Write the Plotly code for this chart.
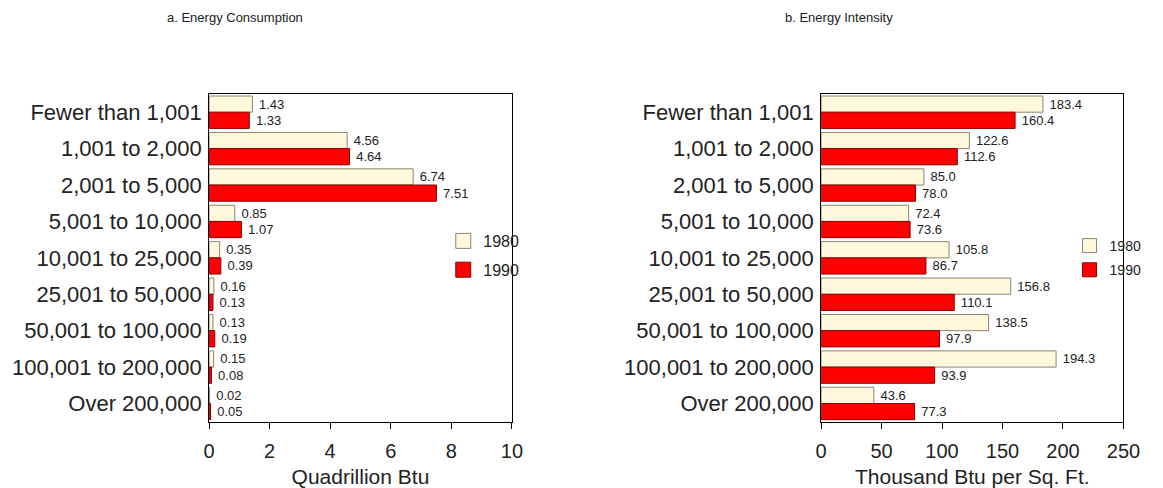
import plotly.graph_objects as go

categories = ["Fewer than 1,001", "1,001 to 2,000", "2,001 to 5,000", "5,001 to 10,000",
              "10,001 to 25,000", "25,001 to 50,000", "50,001 to 100,000",
              "100,001 to 200,000", "Over 200,000"]
consumption_1980 = [1.43, 4.56, 6.74, 0.85, 0.35, 0.16, 0.13, 0.15, 0.02]
consumption_1990 = [1.33, 4.64, 7.51, 1.07, 0.39, 0.13, 0.19, 0.08, 0.05]
intensity_1980 = [183.4, 122.6, 85.0, 72.4, 105.8, 156.8, 138.5, 194.3, 43.6]
intensity_1990 = [160.4, 112.6, 78.0, 73.6, 86.7, 110.1, 97.9, 93.9, 77.3]
years = ["1980", "1990"]
x_ticks_a = [0, 2, 4, 6, 8, 10]
x_ticks_b = [0, 50, 100, 150, 200, 250]

FONT = "Arial, Liberation Sans, sans-serif"
fill = {"1980": "#FFF8DC", "1990": "#FF0000"}
edge = {"1980": "#8C8470", "1990": "#8B0000"}

# page has an 8px body margin; figure is sized to fill the rest of the window
W, H, OFF = 1155, 480, 8
def px(x):
    return (x - OFF) / W
def py(y):
    return 1 - (y - OFF) / H

fig = go.Figure()

def add_bars(vals, year, xa, ya, fmt, legend, msize):
    fig.add_trace(go.Bar(
        y=categories, x=vals, orientation="h", name=year,
        marker=dict(color=fill[year], line=dict(color=edge[year], width=1)),
        text=["\u00a0" + fmt.format(v) for v in vals], textposition="outside",
        textfont=dict(family=FONT, size=13, color="#222"),
        constraintext="none", cliponaxis=False,
        xaxis=xa, yaxis=ya, showlegend=False, hoverinfo="skip"))
    fig.add_trace(go.Scatter(
        x=[None], y=[None], mode="markers", name=year,
        marker=dict(symbol="square", size=msize,
                    color=fill[year], line=dict(color=edge[year], width=1)),
        xaxis=xa, yaxis=ya, legend=legend, legendgroup=legend + year, showlegend=True))

add_bars(consumption_1980, years[0], "x", "y", "{:.2f}", "legend", 15)
add_bars(consumption_1990, years[1], "x", "y", "{:.2f}", "legend", 15)
add_bars(intensity_1980, years[0], "x2", "y2", "{:.1f}", "legend2", 14)
add_bars(intensity_1990, years[1], "x2", "y2", "{:.1f}", "legend2", 14)

ydom = [py(421.7), py(94)]
axis_common = dict(showline=True, linecolor="black", linewidth=1, mirror=True,
                   showgrid=False, zeroline=False)
xcommon = dict(ticks="outside", ticklen=6, tickcolor="black",
               tickfont=dict(size=20), ticklabelstandoff=5)
fig.update_layout(
    width=W, height=H,
    margin=dict(l=0, r=0, t=0, b=0),
    paper_bgcolor="white", plot_bgcolor="white",
    barmode="group", bargap=0.11, bargroupgap=0,
    font=dict(family=FONT, color="#222"),
    xaxis=dict(domain=[px(207), px(516)], range=[0, 10], tickvals=x_ticks_a,
               title=dict(text="Quadrillion Btu", font=dict(size=21), standoff=8),
               anchor="y", **xcommon, **axis_common),
    yaxis=dict(domain=ydom, autorange="reversed", ticks="", tickfont=dict(size=22),
               ticklabelstandoff=2, anchor="x", **axis_common),
    xaxis2=dict(domain=[px(831.5), px(1140)], range=[0, 250], tickvals=x_ticks_b,
                title=dict(text="Thousand Btu per Sq. Ft.", font=dict(size=21), standoff=8),
                anchor="y2", **xcommon, **axis_common),
    yaxis2=dict(domain=ydom, autorange="reversed", ticks="", tickfont=dict(size=22),
                ticklabelstandoff=2, anchor="x2", **axis_common),
    legend=dict(x=438 / W, y=1 - 216 / H, xanchor="left", yanchor="top",
                bgcolor="rgba(0,0,0,0)", font=dict(size=16), tracegroupgap=5,
                itemsizing="trace"),
    legend2=dict(x=1077 / W, y=1 - 222 / H, xanchor="left", yanchor="top",
                 bgcolor="rgba(0,0,0,0)", font=dict(size=14), tracegroupgap=3,
                 itemsizing="trace"),
    annotations=[
        dict(text="a. Energy Consumption", x=px(234), y=py(17), xref="paper", yref="paper",
             xanchor="center", yanchor="middle", showarrow=False, font=dict(size=13, family=FONT)),
        dict(text="b. Energy Intensity", x=px(850), y=py(17), xref="paper", yref="paper",
             xanchor="center", yanchor="middle", showarrow=False, font=dict(size=13, family=FONT)),
    ],
)

fig.write_html("out.html")
